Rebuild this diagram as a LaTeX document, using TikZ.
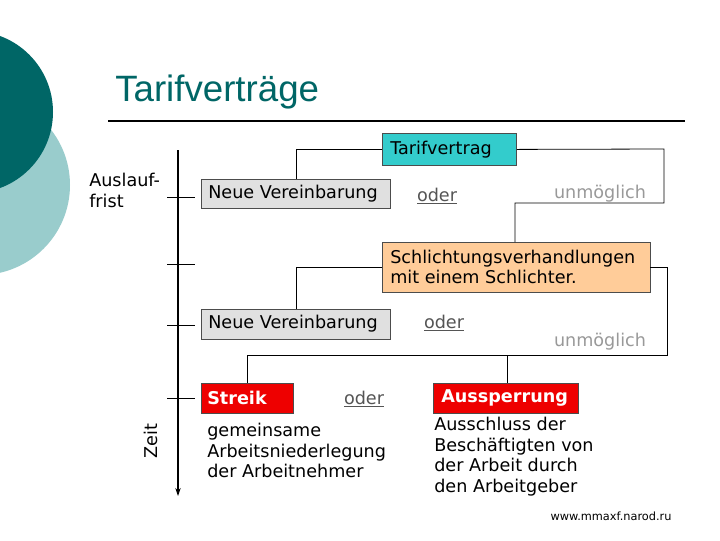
\documentclass[tikz,border=0pt]{standalone}
\usepackage{fontspec}
\usetikzlibrary{arrows.meta}
\setmainfont{DejaVu Sans}
\newfontfamily\titlefont{Liberation Sans}
\definecolor{darkteal}{HTML}{006666}
\definecolor{lightteal}{HTML}{99CCCC}
\definecolor{cyanbox}{HTML}{33CCCC}
\definecolor{peach}{HTML}{FFCC99}
\definecolor{greybox}{HTML}{E0E0E0}
\definecolor{redbox}{HTML}{EE0000}
\definecolor{greytext}{HTML}{999999}
\definecolor{odertext}{HTML}{555555}
\begin{document}
\begin{tikzpicture}[x=0.75pt,y=-0.75pt,
  fs/.style={font=\fontsize{13.2}{15.5}\selectfont},
  box/.style={draw=black!70,line width=0.6pt,inner sep=0pt,anchor=north west,fs},
  lbl/.style={fs,inner sep=0pt,anchor=west},
  txt/.style={fs,inner sep=0pt},
  oderstyle/.style={txt,text=odertext},
  unm/.style={txt,text=greytext},
  conn/.style={line width=0.6pt},
  tick/.style={line width=0.6pt}]
\useasboundingbox (0,0) rectangle (720,540);
\fill[white] (0,0) rectangle (720,540);
\begin{scope}
\clip (0,0) rectangle (720,540);
\fill[lightteal] (-20,185) circle (90);
\fill[darkteal] (-28,112) circle (81);
\end{scope}
\node[anchor=base west,inner sep=0pt,text=darkteal,font=\titlefont\fontsize{27.5}{32}\selectfont] (title) at (115,101) {Tarifverträge};
\draw[line width=1.2pt] (108,121) -- (685,121);
% boxes
\node[box,fill=cyanbox,minimum width=134*0.75pt,minimum height=32*0.75pt] (tv) at (382,133) {};
\node[lbl] (tvt) at (390,150) {Tarifvertrag};
\node[box,fill=greybox,minimum width=189*0.75pt,minimum height=29*0.75pt] (nv1) at (201,179) {};
\node[lbl] (nv1t) at (208,194) {Neue Vereinbarung};
\node[box,fill=peach,minimum width=268*0.75pt,minimum height=50*0.75pt] (sch) at (382,242) {};
\node[lbl,align=left] (scht) at (390,267) {Schlichtungsverhandlungen\\mit einem Schlichter.};
\node[box,fill=greybox,minimum width=189*0.75pt,minimum height=30*0.75pt] (nv2) at (201,309) {};
\node[lbl] (nv2t) at (208,324) {Neue Vereinbarung};
\node[box,fill=redbox,minimum width=92*0.75pt,minimum height=30*0.75pt] (st) at (201,383) {};
\node[lbl,text=white,font=\bfseries\fontsize{13.2}{15.5}\selectfont] (stt) at (207,398) {Streik};
\node[box,fill=redbox,minimum width=145*0.75pt,minimum height=30*0.75pt] (au) at (433,383) {};
\node[lbl,text=white,font=\bfseries\fontsize{13.2}{15.5}\selectfont] (aut) at (441,398) {Aussperrung};
% texts
\node[oderstyle] (o1) at (437,196) {\underline{oder}};
\node[unm] (u1) at (600,194) {unmöglich};
\node[oderstyle] (o2) at (444,323) {\underline{oder}};
\node[unm] (u2) at (600,342) {unmöglich};
\node[oderstyle] (o3) at (364,399) {\underline{oder}};
\node[txt,anchor=north west,align=left] (d1) at (207,423) {gemeinsame\\Arbeitsniederlegung\\der Arbeitnehmer};
\node[txt,anchor=north west,align=left] (d2) at (434,417) {Ausschluss der\\Beschäftigten von\\der Arbeit durch\\den Arbeitgeber};
\node[txt,anchor=north west,align=left] (af) at (89,173) {Auslauf-\\frist};
\node[txt,rotate=90] (zeit) at (151,441) {Zeit};
\node[inner sep=0pt,font=\fontsize{8.5}{10}\selectfont] (url) at (611,516) {www.mmaxf.narod.ru};
% connectors
\draw[conn] (tv.west) -| (nv1.north);
\draw[conn] (tv.east) -- (664,149) -- (664,203) -- (515,203) -- (515,242);
\draw[conn] (382,267) -| (nv2.north);
\draw[conn] (650,267) -- (667,267) -- (667,355) -- (247,355) -- (247,383);
\draw[conn] (507,355) -- (507,383);
% timeline
\coordinate (ttop) at (178,150);
\coordinate (tbot) at (178,496);
\draw[line width=0.8pt,-{Stealth[length=6pt,width=4pt]}] (ttop) -- (tbot);
\foreach \y in {197,264,325,398} \draw[tick] (167,\y) -- (195,\y);
\end{tikzpicture}
\end{document}
